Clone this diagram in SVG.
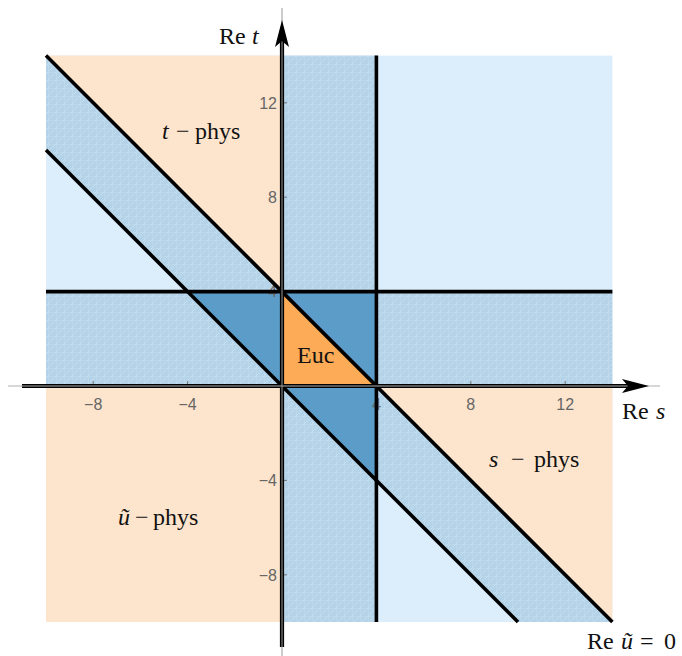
<svg xmlns="http://www.w3.org/2000/svg" width="682" height="656" viewBox="0 0 682 656">
<style>
.lb{fill:#dcedfc}
.pe{fill:#fde5cd}
.md{fill:url(#hatch)}
.dk{fill:#5b9cc8}
.or{fill:#fdab56}
.ln{stroke:#000;stroke-width:3.6;fill:none;stroke-linecap:butt}
.tk{stroke:#777;stroke-width:1}
.tl{font-family:"Liberation Sans",Arial,sans-serif;font-size:16px;fill:#666}
.lab{font-family:"Liberation Serif","Times New Roman",serif;font-size:24px;fill:#111}
.it{font-style:italic}
</style>
<defs>
<pattern id="hatch" patternUnits="userSpaceOnUse" width="8" height="8">
<rect width="8" height="8" fill="#b5d3e8"/>
<path d="M0 0H8M0 0V8M0 8L8 0" stroke="#c6def0" stroke-width="0.8" fill="none"/>
</pattern>
</defs>
<g id="regions">
<rect class="lb" x="46" y="55.6" width="566.4" height="566.4"/>
<polygon id="t-phys-region" class="pe" points="46,55.6 282,55.6 282,291.6"/>
<polygon id="s-phys-region" class="pe" points="376.4,386 612.4,386 612.4,622"/>
<rect id="u-phys-region" class="pe" x="46" y="386" width="236" height="236"/>
<rect class="md" x="282" y="55.6" width="94.4" height="566.4"/>
<rect class="md" x="46" y="291.6" width="566.4" height="94.4"/>
<polygon class="md" points="46,55.6 612.4,622 518,622 46,150"/>
<polygon class="dk" points="187.6,291.6 376.4,291.6 376.4,480.4"/>
<polygon id="euc-region" class="or" points="282,386 376.4,386 282,291.6"/>
</g>
<g id="ticks">
<line class="tk" x1="93.2" y1="381" x2="93.2" y2="386"/>
<line class="tk" x1="187.6" y1="381" x2="187.6" y2="386"/>
<line class="tk" x1="376.4" y1="381" x2="376.4" y2="386"/>
<line class="tk" x1="470.8" y1="381" x2="470.8" y2="386"/>
<line class="tk" x1="565.2" y1="381" x2="565.2" y2="386"/>
<line class="tk" x1="282" y1="102.8" x2="287" y2="102.8"/>
<line class="tk" x1="282" y1="197.2" x2="287" y2="197.2"/>
<line class="tk" x1="282" y1="291.6" x2="287" y2="291.6"/>
<line class="tk" x1="282" y1="480.4" x2="287" y2="480.4"/>
<line class="tk" x1="282" y1="574.8" x2="287" y2="574.8"/>
<text class="tl" x="93.2" y="410" text-anchor="middle">−8</text>
<text class="tl" x="187.6" y="410" text-anchor="middle">−4</text>
<text class="tl" x="376.4" y="410" text-anchor="middle">4</text>
<text class="tl" x="470.8" y="410" text-anchor="middle">8</text>
<text class="tl" x="565.2" y="410" text-anchor="middle">12</text>
<text class="tl" x="277" y="108.5" text-anchor="end">12</text>
<text class="tl" x="277" y="202.9" text-anchor="end">8</text>
<text class="tl" x="277" y="297.3" text-anchor="end">4</text>
<text class="tl" x="277" y="486.1" text-anchor="end">−4</text>
<text class="tl" x="277" y="580.5" text-anchor="end">−8</text>
</g>
<g id="connectors">
<line class="ln" x1="376.4" y1="55.6" x2="376.4" y2="622"/>
<line class="ln" x1="46" y1="291.6" x2="612.4" y2="291.6"/>
<line class="ln" x1="46" y1="55.6" x2="612.4" y2="622"/>
<line class="ln" x1="46" y1="150" x2="518" y2="622"/>
<line x1="22" y1="386" x2="640" y2="386" stroke="#000" stroke-width="4.2"/>
<line x1="282" y1="647" x2="282" y2="30" stroke="#000" stroke-width="4.2"/>
<line x1="8" y1="386" x2="660" y2="386" stroke="#b0b0b0" stroke-width="1"/>
<line x1="282" y1="656" x2="282" y2="8" stroke="#999" stroke-width="1"/>
<polygon points="649,386 622,379 628,386 622,393" fill="#000"/>
<polygon points="282,20 275,47 282,41 289,47" fill="#000"/>
</g>
<g id="labels">
<text class="lab" x="219" y="44" font-size="25">Re<tspan class="it" x="252">t</tspan></text>
<text class="lab" x="622" y="419" font-size="25">Re<tspan class="it" x="656">s</tspan></text>
<text class="lab" x="587" y="649" font-size="25">Re<tspan class="it" x="621">ũ</tspan><tspan x="640">=</tspan><tspan x="664">0</tspan></text>
<text class="lab" x="162" y="139"><tspan class="it">t</tspan><tspan x="176">−</tspan><tspan x="195">phys</tspan></text>
<text class="lab" x="489" y="467"><tspan class="it">s</tspan><tspan x="511">−</tspan><tspan x="534">phys</tspan></text>
<text class="lab" x="118" y="525"><tspan class="it">ũ</tspan><tspan x="135">−</tspan><tspan x="153">phys</tspan></text>
<text class="lab" x="297" y="362.5" font-size="20">Euc</text>
</g>
</svg>
